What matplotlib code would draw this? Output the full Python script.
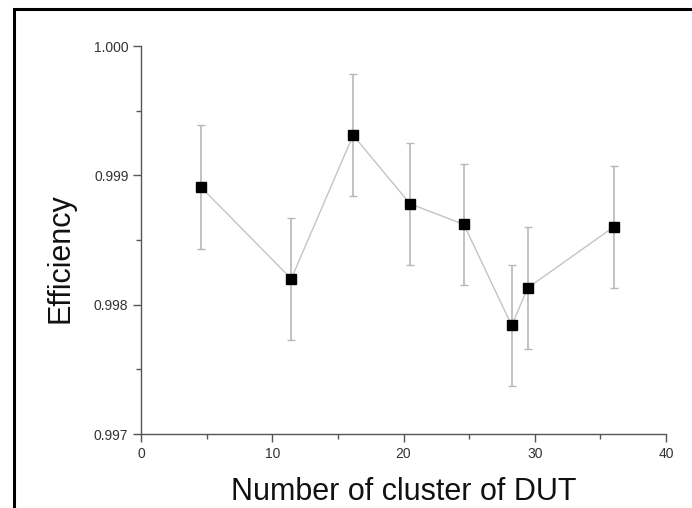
import matplotlib
matplotlib.use("Agg")
import matplotlib.pyplot as plt
from matplotlib.ticker import MultipleLocator, FormatStrFormatter
from matplotlib.patches import Rectangle

plt.rcParams['font.family'] = ['Liberation Sans', 'DejaVu Sans']

clusters = [4.56, 11.45, 16.16, 20.5, 24.6, 28.24, 29.47, 36.0]
efficiency = [0.99891, 0.99820, 0.99931, 0.99878, 0.99862, 0.99784, 0.99813, 0.99860]
errors = [0.00048, 0.00047, 0.00047, 0.00047, 0.00047, 0.00047, 0.00047, 0.00047]

W, H = 692, 508
fig = plt.figure(figsize=(W/100, H/100), dpi=100)
ax = fig.add_axes([141/W, 1-434/H, (666-141)/W, (434-46)/H])

ax.errorbar(clusters, efficiency, yerr=errors, fmt='none', ecolor='#b8b8b8',
            elinewidth=1.2, capsize=3, capthick=1.0, zorder=2)
ax.plot(clusters, efficiency, color='#c4c4c4', lw=1.0, zorder=3)
ax.plot(clusters, efficiency, 's', color='black', ms=6.5, zorder=4)

ax.set_xlim(0, 40)
ax.set_ylim(0.997, 1.000)
ax.xaxis.set_major_locator(MultipleLocator(10))
ax.xaxis.set_minor_locator(MultipleLocator(5))
ax.yaxis.set_major_locator(MultipleLocator(0.001))
ax.yaxis.set_minor_locator(MultipleLocator(0.0005))
ax.yaxis.set_major_formatter(FormatStrFormatter('%.3f'))

for s in ['top', 'right']:
    ax.spines[s].set_visible(False)
for s in ['left', 'bottom']:
    ax.spines[s].set_color('#555555')
    ax.spines[s].set_linewidth(1.0)
ax.spines['left'].set_bounds(0.997, 1.000)
ax.spines['bottom'].set_bounds(0, 40)

ax.tick_params(which='major', direction='out', length=5.5, width=1, color='#555555',
               labelsize=10, labelcolor='#333333', pad=3.5)
ax.tick_params(which='minor', direction='out', length=3.5, width=1, color='#555555')

fig.text(403.5/W, 1-500/H, 'Number of cluster of DUT', fontsize=22, color='#111111',
         ha='center', va='baseline')
fig.text(68/W, 1-258/H, 'Efficiency', fontsize=22, color='#111111',
         rotation=90, rotation_mode='anchor', ha='center', va='baseline')

fig.patches.append(Rectangle((14/W, -0.05), 1.2, 1 - 9/H + 0.05,
                             transform=fig.transFigure, fill=False,
                             edgecolor='black', linewidth=2.2))

fig.savefig('out.png', dpi=100)
